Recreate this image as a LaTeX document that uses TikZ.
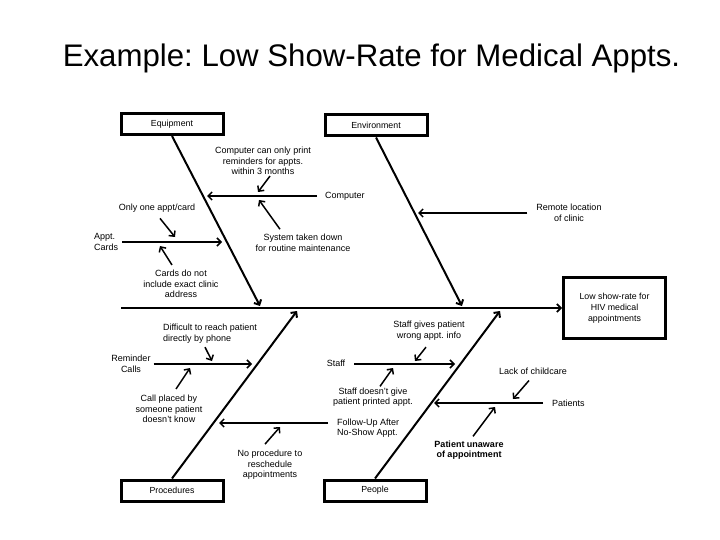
\documentclass[tikz,border=0pt]{standalone}
\usepackage{fontspec}
\setmainfont{Liberation Sans}
\usetikzlibrary{arrows.meta}
\usetikzlibrary{positioning}
\usetikzlibrary{calc}
\frenchspacing

\begin{document}
\begin{tikzpicture}[x=1pt,y=-1pt,>={Straight Barb[length=4pt,width=8pt]},
    cat node/.style={draw,line width=3pt,minimum width=102pt,minimum height=21pt,
                     inner sep=0pt,font=\fontsize{8.8}{10.5}\selectfont},
    effect node/.style={draw,line width=3pt,minimum width=102pt,minimum height=61pt,
                     align=center,font=\fontsize{8.8}{11}\selectfont},
    note/.style={align=center,inner sep=1pt,font=\fontsize{9}{10.5}\selectfont},
    bone/.style={->,line width=2pt},
    branch/.style={->,line width=1.5pt},
    hint/.style={->,line width=1.5pt}]

  \useasboundingbox (0,0) rectangle (720,540);

  % title
  \node[anchor=base] (title) at (371.5,67) {\fontsize{31.2}{36}\selectfont Example: Low Show-Rate for Medical Appts.};

  % head and spine
  \node[effect node] (effect) at (614.5,308) {Low show-rate for\\HIV medical\\appointments};
  \coordinate (spine) at (121,308);
  \draw[->,line width=1.7pt] (spine) -- (effect.west);

  % categories
  \node[cat node] (equip) at (172,124) {Equipment};
  \node[cat node] (env) at (376,125.5) {Environment};
  \node[cat node] (proc) at (172,490.5) {Procedures};
  \node[cat node] (people) at (375,490.5) {People};

  \coordinate (equip-tip) at (260,306);
  \coordinate (env-tip) at (462,306);
  \coordinate (proc-tip) at (297,311);
  \coordinate (people-tip) at (500,311);

  \draw[bone] (equip.south) -- (equip-tip);
  \draw[bone] (env.south) -- (env-tip);
  \draw[bone] (proc.north) -- (proc-tip);
  \draw[bone] (people.north) -- (people-tip);

  % equipment
  \node[note,anchor=west] (computer) at (324,196) {Computer};
  \coordinate (computer-tip) at (207,196);
  \draw[branch,shorten <=7pt] (computer.west) -- (computer-tip);
  \node[note] (print) at (263,161) {Computer can only print\\reminders for appts.\\within 3 months};
  \draw[hint] ([shift={(7,0)}]print.south) -- (258,192);
  \node[note] (system) at (303,243) {System taken down\\for routine maintenance};
  \draw[hint] ([shift={(-23,-4)}]system.north) -- (259,200);

  \node[note,align=left,anchor=west] (cards) at (93,242) {Appt.\\Cards};
  \coordinate (cards-tip) at (222,242);
  \draw[branch,shorten <=3pt] (cards.east) -- (cards-tip);
  \node[note] (onecard) at (157,208) {Only one appt/card};
  \draw[hint] ([shift={(3,5)}]onecard.south) -- (175,237);
  \node[note] (address) at (181,284) {Cards do not\\include exact clinic\\address};
  \draw[hint] ([shift={(-9,-4)}]address.north) -- (160,246);

  % environment
  \node[note] (remote) at (569,213) {Remote location\\of clinic};
  \coordinate (remote-tip) at (418,213);
  \draw[branch,shorten <=8pt] (remote.west) -- (remote-tip);

  % procedures
  \node[note] (reminder) at (131,364) {Reminder\\Calls};
  \coordinate (reminder-tip) at (252,364);
  \draw[branch,shorten <=2pt] (reminder.east) -- (reminder-tip);
  \node[note,align=left] (reach) at (210,333.5) {Difficult to reach patient\\directly by phone};
  \draw[hint] ([shift={(-5,3)}]reach.south) -- (212,361);
  \node[note] (stranger) at (169,409) {Call placed by\\someone patient\\doesn't know};
  \draw[hint] ([shift={(7,-5)}]stranger.north) -- (190,368);

  \node[note,align=left,anchor=west] (followup) at (336,428) {Follow-Up After\\No-Show Appt.};
  \coordinate (followup-tip) at (219,423);
  \draw[branch] ($(followup.west)+(-8,-5)$) -- (followup-tip);
  \node[note] (noproc) at (270,465) {No procedure to\\reschedule\\appointments};
  \draw[hint] ([shift={(-5,-5)}]noproc.north) -- (280,427);

  % people
  \node[note] (staff) at (336,363) {Staff};
  \coordinate (staff-tip) at (455,364);
  \draw[branch,shorten <=8pt] (staff.east |- staff-tip) -- (staff-tip);
  \node[note] (wronginfo) at (429,330.5) {Staff gives patient\\wrong appt. info};
  \draw[hint] ([shift={(-3,6)}]wronginfo.south) -- (415,361);
  \node[note] (noprint) at (373,397) {Staff doesn't give\\patient printed appt.};
  \draw[hint] ([shift={(7,0)}]noprint.north) -- (393,368);

  \node[note,anchor=west] (patients) at (551,403) {Patients};
  \coordinate (patients-tip) at (434,403);
  \draw[branch,shorten <=8pt] (patients.west) -- (patients-tip);
  \node[note] (childcare) at (533,371) {Lack of childcare};
  \draw[hint] ([shift={(-4,5)}]childcare.south) -- (513,399);
  \node[note,font=\fontsize{9}{10.5}\selectfont\bfseries] (unaware) at (469,450) {Patient unaware\\of appointment};
  \draw[hint] ([shift={(4,-3)}]unaware.north) -- (495,407);
\end{tikzpicture}
\end{document}
